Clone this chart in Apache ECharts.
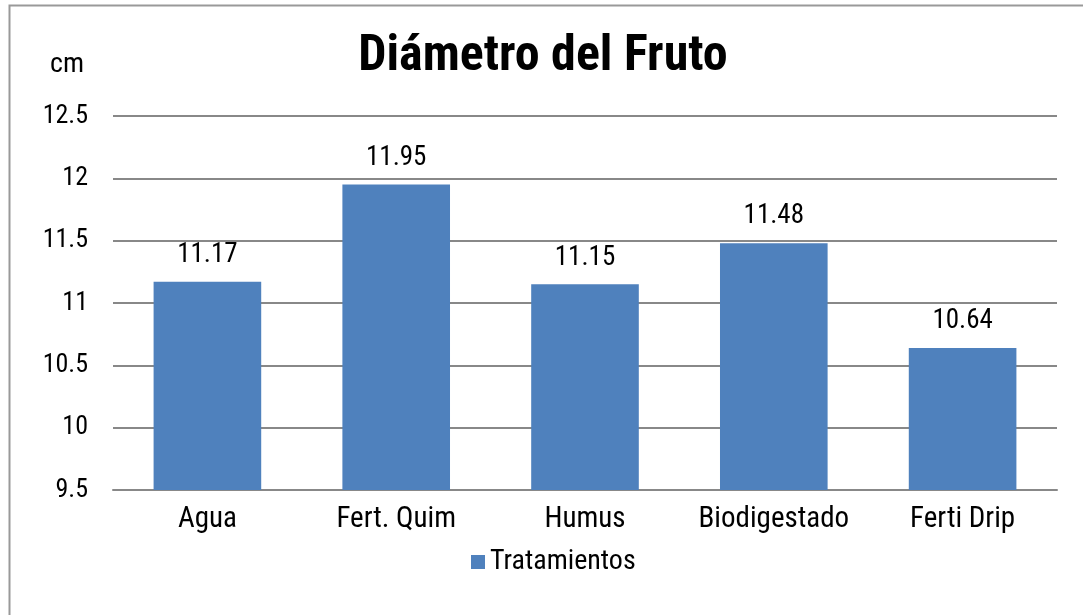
<!DOCTYPE html>
<html>
<head>
<meta charset="utf-8">
<script src="https://cdn.jsdelivr.net/npm/echarts@6/dist/echarts.min.js"></script>
<style>
html,body{margin:0;padding:0;background:#fff;}
#chart{width:1083px;height:615px;}
</style>
</head>
<body>
<div id="chart"></div>
<script>
const categories = ['Agua', 'Fert. Quim', 'Humus', 'Biodigestado', 'Ferti Drip'];
const values = [11.17, 11.95, 11.15, 11.48, 10.64];
const seriesName = 'Tratamientos';
const titleText = 'Diámetro del Fruto';
const unitText = 'cm';

const FONT = '"Roboto Condensed", Roboto, sans-serif';
const chart = echarts.init(document.getElementById('chart'), null, {renderer: 'canvas'});
chart.setOption({
  backgroundColor: '#fff',
  animation: false,
  title: {
    text: titleText,
    left: 538, top: 27, textAlign: 'center',
    textStyle: {fontFamily: FONT, fontWeight: 'bold', fontSize: 50, color: '#000'}
  },
  graphic: [
    {type: 'rect', shape: {x: 9.5, y: 5.5, width: 1200, height: 700}, style: {fill: 'none', stroke: '#999', lineWidth: 2}, silent: true},
    {type: 'text', left: 50, top: 51, style: {text: unitText, font: '28px ' + FONT, fill: '#000'}}
  ],
  legend: {
    data: [seriesName], bottom: 34, left: 466,
    icon: 'rect', itemWidth: 14, itemHeight: 14, itemGap: 6,
    textStyle: {fontFamily: FONT, fontSize: 28, color: '#000'}
  },
  grid: {left: 113, right: 26, top: 116, bottom: 125},
  xAxis: {
    type: 'category', data: categories,
    axisTick: {show: false},
    axisLine: {lineStyle: {color: '#888', width: 2}},
    axisLabel: {fontFamily: FONT, fontSize: 29, color: '#000', margin: 15, interval: 0, hideOverlap: false}
  },
  yAxis: {
    type: 'value', min: 9.5, max: 12.5, interval: 0.5,
    axisLine: {show: false}, axisTick: {show: false},
    splitLine: {lineStyle: {color: '#888', width: 2}},
    axisLabel: {fontFamily: FONT, fontSize: 26, color: '#000', margin: 25,
      formatter: v => String(+v.toFixed(2))}
  },
  series: [{
    name: seriesName, type: 'bar', data: values,
    barWidth: '57%',
    itemStyle: {color: '#4F81BD'},
    label: {show: true, position: 'top', distance: 13, fontFamily: FONT, fontSize: 27, color: '#000',
      formatter: p => p.value.toFixed(2)}
  }]
});
</script>
</body>
</html>
